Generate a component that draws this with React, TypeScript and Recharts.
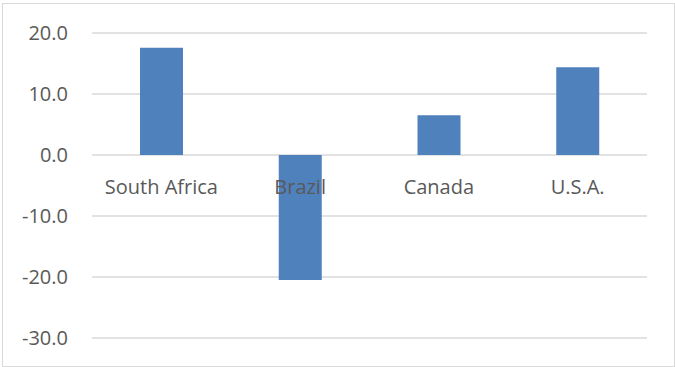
import React from "react";
import {
  BarChart,
  Bar,
  XAxis,
  YAxis,
  CartesianGrid,
  ReferenceDot,
} from "recharts";

const countries = ["South Africa", "Brazil", "Canada", "U.S.A."];
const changes = [17.6, -20.5, 6.5, 14.4];
const yTicks = [-30, -20, -10, 0, 10, 20];

const chartData = countries.map((name, i) => ({ name, value: changes[i] }));

const FONT = "'Open Sans', sans-serif";
const TEXT = "#595959";

export default function App() {
  return (
    <div
      style={{
        position: "absolute",
        left: 0,
        top: 0,
        width: 675,
        height: 367,
        background: "#fff",
      }}
    >
      <div
        style={{
          position: "absolute",
          left: 2,
          top: 3,
          width: 671,
          height: 362,
          border: "1px solid #d9d9d9",
        }}
      />
      <BarChart
        width={675}
        height={367}
        data={chartData}
        margin={{ top: 33, right: 28, bottom: 29, left: 0 }}
        style={{ position: "absolute", left: 0, top: 0 }}
      >
        <CartesianGrid
          vertical={false}
          stroke="#d9d9d9"
          strokeWidth={1.5}
        />
        <XAxis dataKey="name" hide />
        <YAxis
          type="number"
          domain={[-30, 20]}
          ticks={yTicks}
          width={92}
          axisLine={false}
          tickLine={false}
          tickMargin={18}
          tickFormatter={(v: number) => v.toFixed(1)}
          tick={{ fontSize: 20, fill: TEXT, fontFamily: FONT }}
        />
        <Bar
          dataKey="value"
          fill="#4f81bd"
          barSize={43}
          isAnimationActive={false}
        />
        {countries.map((c) => (
          <ReferenceDot
            key={c}
            x={c}
            y={0}
            r={0}
            stroke="none"
            fill="none"
            label={{
              value: c,
              position: "bottom",
              offset: 25,
              fontSize: 20,
              fill: TEXT,
              fontFamily: FONT,
            }}
          />
        ))}
      </BarChart>
    </div>
  );
}
